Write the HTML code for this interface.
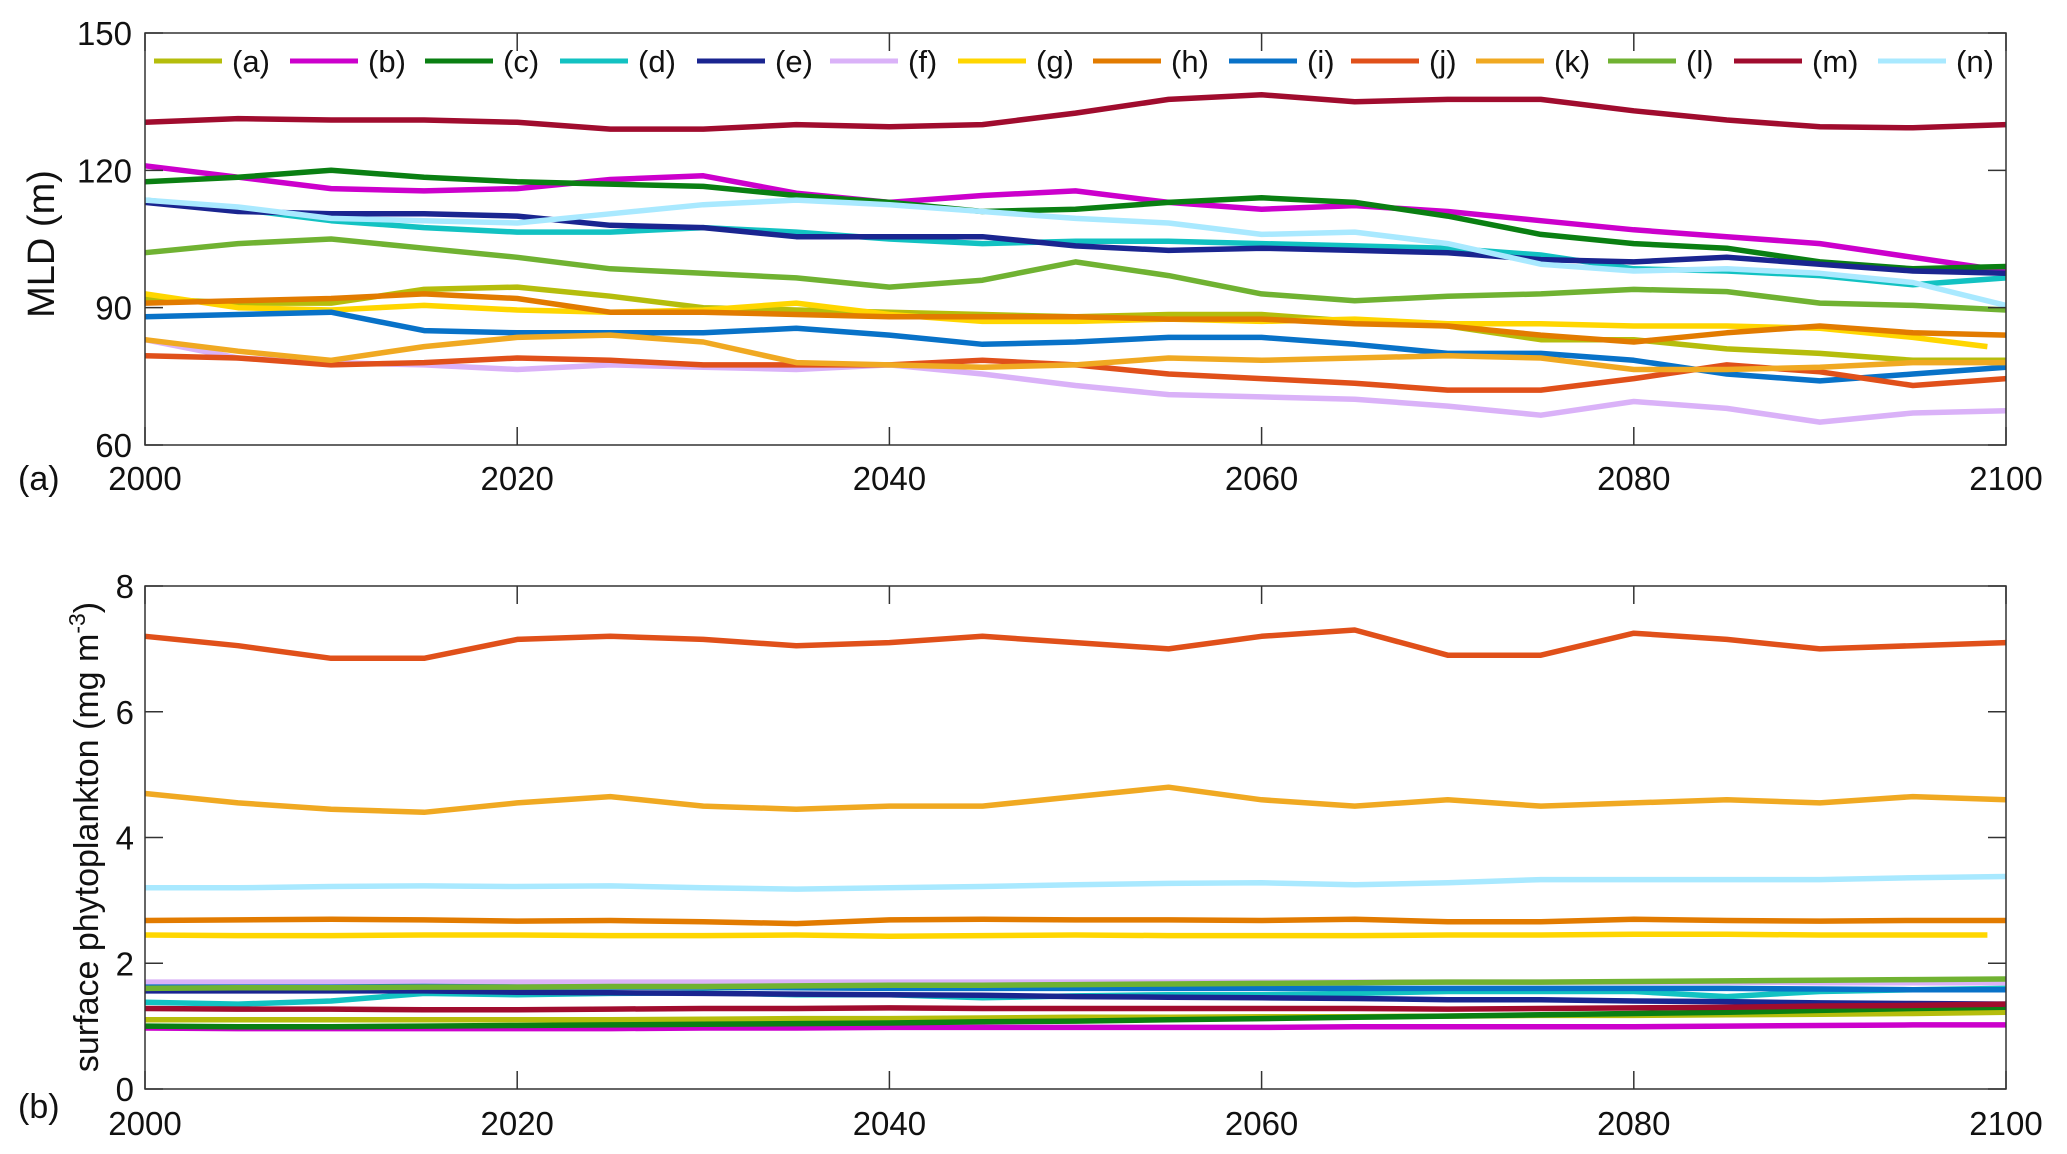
<!DOCTYPE html>
<html><head><meta charset="utf-8"><style>
html,body{margin:0;padding:0;background:#fff;}
svg{display:block;font-family:"Liberation Sans",sans-serif;}
</style></head><body>
<svg id="chart" width="2067" height="1154" viewBox="0 0 2067 1154" xmlns="http://www.w3.org/2000/svg"></svg>
<script>
const years = [2000,2005,2010,2015,2020,2025,2030,2035,2040,2045,2050,2055,2060,2065,2070,2075,2080,2085,2090,2095,2100];
const seriesNames = ['(a)','(b)','(c)','(d)','(e)','(f)','(g)','(h)','(i)','(j)','(k)','(l)','(m)','(n)'];
const seriesColors = ['#b5bd0c','#cc00cc','#0a7f12','#12c2c2','#1a2590','#dab2f8','#ffd600','#e27b00','#0872c8','#e0501a','#f0a922','#70b232','#a00c2e','#a9e9ff'];
const mldA = [92,91,91,94,94.5,92.5,90,89.5,89,88.5,88,88.5,88.5,87,86,83,83,81,80,78.5,78.5];
const mldB = [121,118.5,116,115.5,116,118,118.8,115,113,114.5,115.5,113,111.5,112.3,111,109,107,105.5,104,101,98];
const mldC = [117.5,118.5,120,118.5,117.5,117,116.5,114.5,113,111,111.5,113,114,113,110,106,104,103,100,98.5,99];
const mldD = [113.5,111.5,109,107.5,106.5,106.5,107.5,106.5,105,104,104.5,104.5,104,103.5,103,101.5,98.5,98,97,95,96.5];
const mldE = [113,111,110.5,110.5,110,108,107.5,105.5,105.5,105.5,103.5,102.5,103,102.5,102,100.5,100,101,99.5,98,97.5];
const mldF = [83,79,78,77.5,76.5,77.5,77,76.5,77.5,75.5,73,71,70.5,70,68.5,66.5,69.5,68,65,67,67.5];
const mldG = [93,90,89.5,90.5,89.5,89,89.5,91,88.5,87,87,87.5,87,87.5,86.5,86.5,86,86,85.5,83.5,81.5];
const mldH = [91,91.5,92,93,92,89,89,88.5,88,88,88,87.5,87.5,86.5,86,84,82.5,84.5,86,84.5,84];
const mldI = [88,88.5,89,85,84.5,84.5,84.5,85.5,84,82,82.5,83.5,83.5,82,80,80,78.5,75.5,74,75.5,77];
const mldJ = [79.5,79,77.5,78,79,78.5,77.5,77.5,77.5,78.5,77.5,75.5,74.5,73.5,72,72,74.5,77.5,76,73,74.5];
const mldK = [83,80.5,78.5,81.5,83.5,84,82.5,78,77.5,77,77.5,79,78.5,79,79.5,79,76.5,76.5,77,78,78];
const mldL = [102,104,105,103,101,98.5,97.5,96.5,94.5,96,100,97,93,91.5,92.5,93,94,93.5,91,90.5,89.5];
const mldM = [130.5,131.3,131,131,130.5,129,129,130,129.5,130,132.5,135.5,136.5,135,135.5,135.5,133,131,129.5,129.3,130];
const mldN = [113.5,112,109.5,109,108.5,110.5,112.5,113.5,112.5,111,109.5,108.5,106,106.5,104,99.5,98,98.5,97.5,95.5,90.5];
const phyA = [1.1,1.1,1.1,1.1,1.1,1.1,1.11,1.12,1.12,1.13,1.14,1.14,1.15,1.15,1.16,1.17,1.17,1.18,1.19,1.2,1.22];
const phyB = [0.97,0.96,0.96,0.96,0.96,0.96,0.97,0.97,0.98,0.98,0.98,0.98,0.98,0.99,0.99,0.99,0.99,1.0,1.01,1.02,1.02];
const phyC = [1.0,0.99,0.99,1.0,1.01,1.02,1.03,1.04,1.05,1.07,1.08,1.1,1.12,1.14,1.16,1.18,1.2,1.22,1.25,1.28,1.3];
const phyD = [1.38,1.35,1.4,1.52,1.5,1.52,1.53,1.5,1.5,1.45,1.48,1.5,1.5,1.52,1.55,1.55,1.55,1.47,1.55,1.58,1.6];
const phyE = [1.56,1.56,1.56,1.56,1.54,1.53,1.52,1.51,1.5,1.49,1.47,1.46,1.45,1.44,1.42,1.42,1.4,1.39,1.37,1.36,1.35];
const phyF = [1.7,1.7,1.7,1.7,1.7,1.7,1.7,1.7,1.7,1.7,1.7,1.7,1.7,1.7,1.7,1.7,1.7,1.7,1.69,1.69,1.69];
const phyG = [2.45,2.44,2.44,2.45,2.45,2.44,2.44,2.45,2.43,2.44,2.45,2.44,2.44,2.44,2.45,2.45,2.46,2.46,2.45,2.45,2.45];
const phyH = [2.68,2.69,2.7,2.69,2.67,2.68,2.66,2.63,2.69,2.7,2.69,2.69,2.68,2.7,2.66,2.66,2.7,2.68,2.67,2.68,2.68];
const phyI = [1.62,1.62,1.62,1.63,1.62,1.62,1.62,1.61,1.6,1.6,1.6,1.6,1.6,1.6,1.6,1.6,1.6,1.6,1.59,1.58,1.58];
const phyJ = [7.2,7.05,6.85,6.85,7.15,7.2,7.15,7.05,7.1,7.2,7.1,7.0,7.2,7.3,6.9,6.9,7.25,7.15,7.0,7.05,7.1];
const phyK = [4.7,4.55,4.45,4.4,4.55,4.65,4.5,4.45,4.5,4.5,4.65,4.8,4.6,4.5,4.6,4.5,4.55,4.6,4.55,4.65,4.6];
const phyL = [1.6,1.61,1.61,1.62,1.62,1.63,1.63,1.64,1.65,1.65,1.66,1.67,1.68,1.69,1.7,1.7,1.71,1.72,1.73,1.74,1.75];
const phyM = [1.28,1.27,1.27,1.26,1.26,1.27,1.28,1.28,1.29,1.28,1.28,1.28,1.28,1.28,1.27,1.28,1.29,1.3,1.32,1.33,1.35];
const phyN = [3.2,3.2,3.22,3.23,3.22,3.23,3.2,3.18,3.2,3.22,3.25,3.27,3.28,3.25,3.28,3.33,3.33,3.33,3.33,3.36,3.38];
const mldTicks = [60,90,120,150];
const phyTicks = [0,2,4,6,8];
const xTicks = [2000,2020,2040,2060,2080,2100];

const mldSeries = [mldA,mldB,mldC,mldD,mldE,mldF,mldG,mldH,mldI,mldJ,mldK,mldL,mldM,mldN];
const phySeries = [phyA,phyB,phyC,phyD,phyE,phyF,phyG,phyH,phyI,phyJ,phyK,phyL,phyM,phyN];
const seriesEnd = [2100,2100,2100,2100,2100,2100,2099,2100,2100,2100,2100,2100,2100,2100];

const NS='http://www.w3.org/2000/svg';
const svg=document.getElementById('chart');
function el(tag,attrs,parent,text){const e=document.createElementNS(NS,tag);for(const k in attrs)e.setAttribute(k,attrs[k]);if(text!==undefined)e.textContent=text;(parent||svg).appendChild(e);return e;}

const L=145,R=2006;
const xs=y=>L+(y-2000)/100*(R-L);
function panel(id,top,bot,yMin,yMax,yTicks,series,tickLabelX,xLabelY){
  const ys=v=>bot-(v-yMin)/(yMax-yMin)*(bot-top);
  const g=el('g',{});
  
  
  const lines=el('g',{},g);
  
  
  series.forEach((arr,si)=>{
    let pts=[];
    arr.forEach((v,i)=>{let yr=years[i];if(yr>seriesEnd[si])yr=seriesEnd[si];pts.push(xs(yr).toFixed(1)+','+ys(v).toFixed(1));});
    const p=el('polyline',{points:pts.join(' '),fill:'none',stroke:seriesColors[si],'stroke-width':5.5,'stroke-linejoin':'round'},lines);
    
    
  });
  const ax=el('g',{},g);
  
  
  el('rect',{x:L,y:top,width:R-L,height:bot-top,fill:'none',stroke:'#333','stroke-width':1.5},ax);
  xTicks.forEach(t=>{
    const x=xs(t);
    el('line',{x1:x,y1:bot,x2:x,y2:bot-18,stroke:'#333','stroke-width':1.5},ax);
    el('line',{x1:x,y1:top,x2:x,y2:top+18,stroke:'#333','stroke-width':1.5},ax);
    const tx=el('text',{x:x,y:xLabelY,'font-size':33,'text-anchor':'middle',fill:'#111'},ax,String(t));
    
    
  });
  yTicks.forEach(t=>{
    const y=ys(t);
    el('line',{x1:L,y1:y,x2:L+18,y2:y,stroke:'#333','stroke-width':1.5},ax);
    el('line',{x1:R,y1:y,x2:R-18,y2:y,stroke:'#333','stroke-width':1.5},ax);
    const tx=el('text',{x:tickLabelX,y:y+12,'font-size':33,'text-anchor':'end',fill:'#111'},ax,String(t));
    
    
  });
}
panel('mld',33,445,60,150,mldTicks,mldSeries,132,490);
panel('phyto',586,1089,0,8,phyTicks,phySeries,134,1135);

// legend
const lg=el('g',{});


const textX=[232,368,503,638,775,908,1036,1171,1307,1429,1554,1686,1812,1956];
seriesNames.forEach((n,i)=>{
  const e=el('g',{},lg);
  
  
  el('line',{x1:textX[i]-78,y1:61,x2:textX[i]-10,y2:61,stroke:seriesColors[i],'stroke-width':5},e);
  el('text',{x:textX[i],y:72,'font-size':31,fill:'#111'},e,n);
});

const t1=el('text',{x:0,y:0,'font-size':38,'text-anchor':'middle',fill:'#111',transform:'translate(54,244) rotate(-90)'},svg,'MLD (m)');


const t2=el('text',{x:0,y:0,'font-size':34,'text-anchor':'middle',fill:'#111',transform:'translate(98,837) rotate(-90)'},svg);


el('tspan',{},t2,'surface phytoplankton (mg m');
el('tspan',{dy:-13,'font-size':23},t2,'-3');
el('tspan',{dy:13},t2,')');
const la=el('text',{x:18,y:490,'font-size':34,fill:'#111'},svg,'(a)');


const lb=el('text',{x:18,y:1118,'font-size':34,fill:'#111'},svg,'(b)');


</script>
</body></html>
